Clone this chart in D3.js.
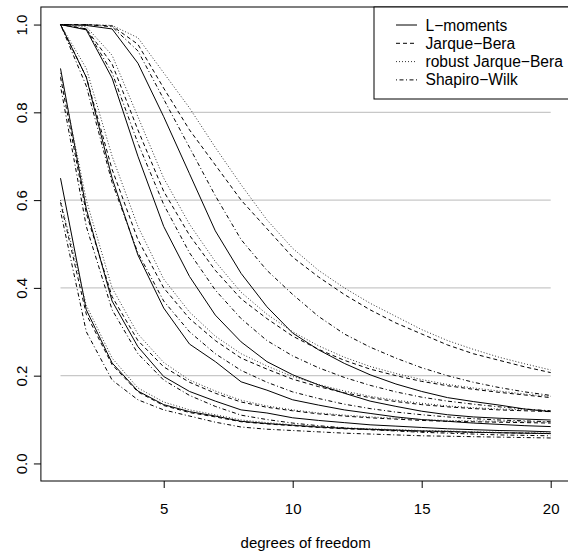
<!DOCTYPE html>
<html>
<head>
<meta charset="utf-8">
<script src="https://cdn.jsdelivr.net/npm/d3@7"></script>
<style>
  body { margin: 0; background: #fff; }
  svg text { font-family: "Liberation Sans", Arial, Helvetica, sans-serif; font-size: 15px; fill: #000; }
  svg .row text { font-size: 15.6px; }
</style>
</head>
<body>
<div id="chart"></div>
<script>
// degrees of freedom on the x axis
const df = d3.range(1, 21);
const xTicks = [5, 10, 15, 20];
const yTicks = [0, 0.2, 0.4, 0.6, 0.8, 1.0];
const gridLevels = [0.2, 0.4, 0.6, 0.8];

const testNames = ["L\u2212moments", "Jarque\u2212Bera", "robust Jarque\u2212Bera", "Shapiro\u2212Wilk"];

// power curves, one row per sample size (smallest first)
const powerLM = [
  [0.65, 0.35, 0.229, 0.165, 0.134, 0.118, 0.108, 0.096, 0.091, 0.087, 0.083, 0.080, 0.078, 0.076, 0.074, 0.073, 0.071, 0.070, 0.069, 0.068],
  [0.90, 0.58, 0.37, 0.266, 0.198, 0.164, 0.142, 0.122, 0.115, 0.104, 0.098, 0.093, 0.088, 0.085, 0.082, 0.079, 0.077, 0.075, 0.074, 0.072],
  [1.0, 0.88, 0.65, 0.475, 0.354, 0.272, 0.232, 0.186, 0.167, 0.145, 0.133, 0.122, 0.114, 0.106, 0.100, 0.096, 0.092, 0.089, 0.086, 0.084],
  [1.0, 0.988, 0.878, 0.70, 0.54, 0.426, 0.338, 0.277, 0.232, 0.202, 0.179, 0.160, 0.142, 0.130, 0.119, 0.111, 0.106, 0.103, 0.101, 0.099],
  [1.0, 0.998, 0.99, 0.912, 0.79, 0.66, 0.53, 0.433, 0.357, 0.297, 0.259, 0.228, 0.202, 0.181, 0.164, 0.150, 0.141, 0.133, 0.124, 0.118]
];
const powerJB = [
  [0.595, 0.34, 0.225, 0.163, 0.132, 0.116, 0.106, 0.095, 0.090, 0.086, 0.082, 0.079, 0.077, 0.075, 0.073, 0.072, 0.071, 0.070, 0.069, 0.068],
  [0.88, 0.57, 0.38, 0.28, 0.22, 0.185, 0.16, 0.14, 0.128, 0.12, 0.113, 0.108, 0.104, 0.101, 0.098, 0.096, 0.095, 0.094, 0.093, 0.092],
  [1.0, 0.88, 0.67, 0.51, 0.40, 0.33, 0.28, 0.24, 0.215, 0.192, 0.175, 0.161, 0.150, 0.141, 0.134, 0.129, 0.125, 0.122, 0.120, 0.118],
  [1.0, 0.99, 0.91, 0.76, 0.62, 0.52, 0.44, 0.375, 0.33, 0.29, 0.26, 0.235, 0.215, 0.20, 0.187, 0.177, 0.169, 0.162, 0.156, 0.150],
  [1.0, 1.0, 0.997, 0.955, 0.855, 0.76, 0.68, 0.60, 0.535, 0.47, 0.425, 0.385, 0.35, 0.32, 0.295, 0.27, 0.25, 0.235, 0.22, 0.207]
];
const powerRJB = [
  [0.60, 0.36, 0.24, 0.172, 0.140, 0.122, 0.111, 0.099, 0.093, 0.088, 0.084, 0.081, 0.079, 0.077, 0.075, 0.074, 0.072, 0.071, 0.070, 0.069],
  [0.89, 0.60, 0.40, 0.295, 0.23, 0.19, 0.165, 0.144, 0.131, 0.122, 0.115, 0.110, 0.106, 0.103, 0.100, 0.098, 0.097, 0.096, 0.095, 0.094],
  [1.0, 0.90, 0.70, 0.54, 0.42, 0.345, 0.29, 0.25, 0.222, 0.198, 0.18, 0.165, 0.153, 0.144, 0.137, 0.131, 0.127, 0.124, 0.122, 0.120],
  [1.0, 0.995, 0.93, 0.79, 0.65, 0.545, 0.46, 0.39, 0.34, 0.30, 0.268, 0.242, 0.221, 0.205, 0.191, 0.18, 0.172, 0.165, 0.158, 0.153],
  [1.0, 1.0, 0.998, 0.97, 0.89, 0.81, 0.72, 0.635, 0.555, 0.49, 0.44, 0.40, 0.365, 0.335, 0.305, 0.28, 0.26, 0.242, 0.227, 0.213]
];
const powerSW = [
  [0.575, 0.30, 0.19, 0.145, 0.122, 0.108, 0.094, 0.083, 0.078, 0.075, 0.072, 0.069, 0.067, 0.065, 0.063, 0.062, 0.061, 0.060, 0.059, 0.058],
  [0.86, 0.54, 0.35, 0.25, 0.19, 0.155, 0.13, 0.11, 0.10, 0.092, 0.086, 0.081, 0.077, 0.074, 0.071, 0.069, 0.067, 0.065, 0.064, 0.063],
  [1.0, 0.86, 0.64, 0.48, 0.37, 0.30, 0.25, 0.212, 0.185, 0.163, 0.148, 0.135, 0.125, 0.117, 0.111, 0.106, 0.102, 0.099, 0.097, 0.095],
  [1.0, 0.99, 0.89, 0.73, 0.59, 0.48, 0.395, 0.33, 0.28, 0.245, 0.218, 0.196, 0.178, 0.163, 0.151, 0.142, 0.135, 0.129, 0.124, 0.120],
  [1.0, 1.0, 0.995, 0.94, 0.83, 0.72, 0.61, 0.51, 0.44, 0.385, 0.335, 0.295, 0.265, 0.24, 0.218, 0.20, 0.185, 0.173, 0.163, 0.155]
];

const width = 568, height = 557;
const dashes = [null, "4,3", "1,2", "1,2.5,4,2.5"]; // solid, dashed, dotted, dotdash

const svg = d3.select("#chart").append("svg")
    .attr("width", width)
    .attr("height", height);

// R style: 4% padding around the data range
const x = d3.scaleLinear().domain([0.24, 20.76]).range([40.9, 570.3]);
const y = d3.scaleLinear().domain([-0.04, 1.04]).range([481, 7]);

// grey reference lines
svg.append("g").selectAll("line")
    .data(gridLevels)
    .join("line")
    .attr("x1", x(1)).attr("x2", x(20))
    .attr("y1", d => y(d)).attr("y2", d => y(d))
    .attr("stroke", "#c8c8c8")
    .attr("stroke-width", 1.2);

const line = d3.line()
    .x((d, i) => x(df[i]))
    .y(d => y(d));

const allTests = [powerLM, powerJB, powerRJB, powerSW];
allTests.forEach((rows, t) => {
    svg.append("g").selectAll("path")
        .data(rows)
        .join("path")
        .attr("d", line)
        .attr("fill", "none")
        .attr("stroke", t === 2 ? "#333" : "#000")
        .attr("stroke-width", 1)
        .attr("stroke-dasharray", dashes[t]);
});

// plot box
svg.append("rect")
    .attr("x", x.range()[0]).attr("y", y.range()[1])
    .attr("width", x.range()[1] - x.range()[0])
    .attr("height", y.range()[0] - y.range()[1])
    .attr("fill", "none")
    .attr("stroke", "#000")
    .attr("stroke-width", 1);

// x axis
const xAxis = svg.append("g")
    .attr("transform", `translate(0,${y.range()[0]})`)
    .call(d3.axisBottom(x).tickValues(xTicks).tickSize(7).tickPadding(15).tickSizeOuter(0));
xAxis.select(".domain").remove();
xAxis.selectAll("text").attr("font-size", null).attr("font-family", null);

// y axis, labels turned like R's las=0
const yAxis = svg.append("g")
    .attr("transform", `translate(${x.range()[0]},0)`)
    .call(d3.axisLeft(y).tickValues(yTicks).tickSize(7).tickFormat(d3.format(".1f")).tickSizeOuter(0));
yAxis.select(".domain").remove();
yAxis.selectAll("text")
    .attr("font-size", null).attr("font-family", null)
    .attr("transform", "rotate(-90)")
    .attr("x", 0).attr("y", -13.5).attr("dy", 0)
    .attr("text-anchor", "middle");

svg.append("text")
    .attr("x", (x.range()[0] + x.range()[1]) / 2)
    .attr("y", 548)
    .attr("text-anchor", "middle")
    .text("degrees of freedom");

// legend
const legend = svg.append("g");
legend.append("rect")
    .attr("x", 374).attr("y", 7)
    .attr("width", x.range()[1] - 374).attr("height", 92)
    .attr("fill", "#fff")
    .attr("stroke", "#000");

const rows = legend.selectAll("g.row")
    .data(testNames)
    .join("g")
    .attr("class", "row")
    .attr("transform", (d, i) => `translate(0,${25 + i * 18.3})`);
rows.append("line")
    .attr("x1", 396).attr("x2", 417)
    .attr("stroke", (d, i) => i === 2 ? "#333" : "#000")
    .attr("stroke-dasharray", (d, i) => dashes[i]);
rows.append("text")
    .attr("x", 425.5).attr("y", 5.5)
    .text(d => d);
</script>
</body>
</html>
